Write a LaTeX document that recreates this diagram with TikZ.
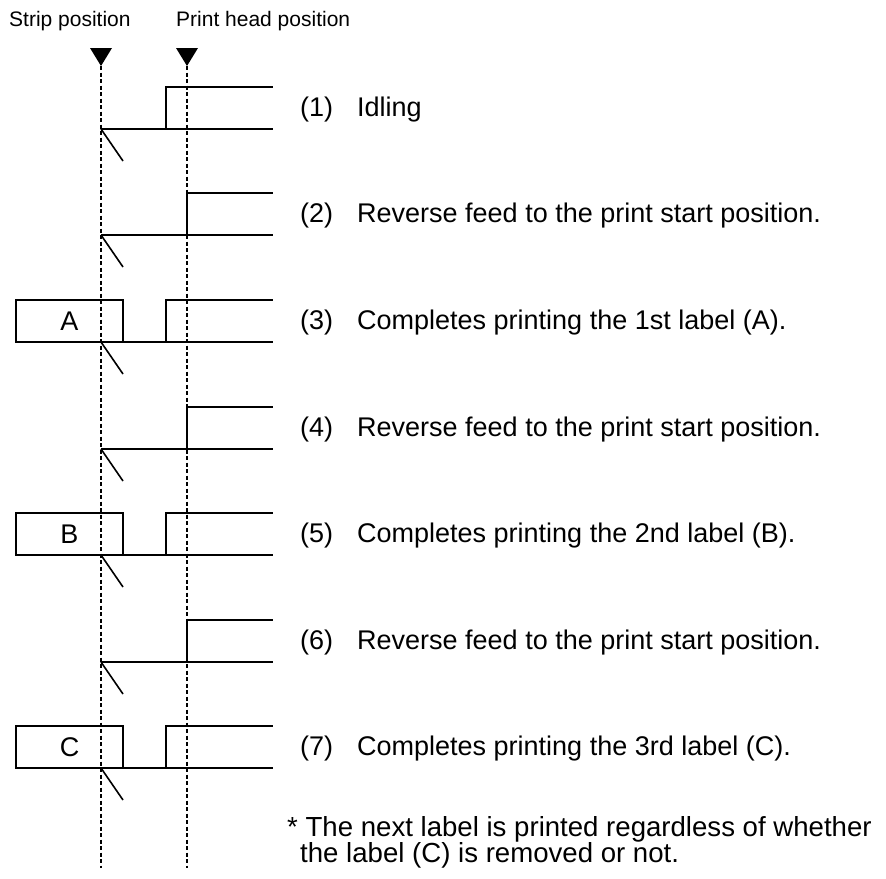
\documentclass[tikz,border=0pt]{standalone}
\usepackage{fontspec}
\setmainfont{Liberation Sans}
\usetikzlibrary{positioning}
\tikzset{
	tape/.style={line width=1.6pt},
	guide/.style={line width=1.4pt, dash pattern=on 4pt off 2.5pt},
	marker/.style={fill=black},
	labelbox/.style={draw=black, line width=1.6pt, minimum width=107pt, minimum height=42pt, inner sep=0pt, outer sep=0pt, font=\fontsize{27}{30}\selectfont},
	stepno/.style={anchor=base west, inner sep=0pt, font=\fontsize{27}{30}\selectfont},
	footnote/.style={anchor=base west, inner sep=0pt, font=\fontsize{27.6}{30}\selectfont},
	heading/.style={anchor=base west, inner sep=0pt, font=\fontsize{21}{24}\selectfont}
}

\begin{document}
\begin{tikzpicture}[x=1pt, y=-1pt]
\useasboundingbox (0,0) rectangle (886,878);
\coordinate (strip) at (101,66);
\coordinate (head) at (187,66);
\coordinate (strip end) at (101,868);
\coordinate (head end) at (187,868);

\node[heading] (strip title) at (9,26) {Strip position};
\node[heading] (head title) at (176,26) {Print head position};
\fill[marker] (strip) -- ++(-11,-18) -- ++(22,0) -- cycle;
\fill[marker] (head) -- ++(-11,-18) -- ++(22,0) -- cycle;
\draw[guide] (strip) -- (strip end);
\draw[guide] (head) -- (head end);

% (1) idling
\draw[tape] (101,129) -- (273,129) (166,129) |- (273,87);
\draw[tape] (101,129) -- ++(22,32);
\node[stepno] (n1) at (300,116) {(1)};
\node[stepno] (t1) at (357,116) {Idling};

% (2) reverse feed
\draw[tape] (101,235) -- (273,235) (187,235) |- (273,193);
\draw[tape] (101,235) -- ++(22,32);
\node[stepno] (n2) at (300,222) {(2)};
\node[stepno] (t2) at (357,222) {Reverse feed to the print start position.};

% (3) label A
\node[labelbox] (A) at (69.5,321) {A};
\draw[tape] (A.south east) -- (273,342) (166,342) |- (273,300);
\draw[tape] (101,342) -- ++(22,32);
\node[stepno] (n3) at (300,329) {(3)};
\node[stepno] (t3) at (357,329) {Completes printing the 1st label (A).};

% (4) reverse feed
\draw[tape] (101,449) -- (273,449) (187,449) |- (273,407);
\draw[tape] (101,449) -- ++(22,32);
\node[stepno] (n4) at (300,436) {(4)};
\node[stepno] (t4) at (357,436) {Reverse feed to the print start position.};

% (5) label B
\node[labelbox] (B) at (69.5,534) {B};
\draw[tape] (B.south east) -- (273,555) (166,555) |- (273,513);
\draw[tape] (101,555) -- ++(22,32);
\node[stepno] (n5) at (300,542) {(5)};
\node[stepno] (t5) at (357,542) {Completes printing the 2nd label (B).};

% (6) reverse feed
\draw[tape] (101,662) -- (273,662) (187,662) |- (273,620);
\draw[tape] (101,662) -- ++(22,32);
\node[stepno] (n6) at (300,649) {(6)};
\node[stepno] (t6) at (357,649) {Reverse feed to the print start position.};

% (7) label C
\node[labelbox] (C) at (69.5,747) {C};
\draw[tape] (C.south east) -- (273,768) (166,768) |- (273,726);
\draw[tape] (101,768) -- ++(22,32);
\node[stepno] (n7) at (300,755) {(7)};
\node[stepno] (t7) at (357,755) {Completes printing the 3rd label (C).};

\node[footnote] (note1) at (287,836) {* The next label is printed regardless of whether};
\node[footnote] (note2) at (300,862) {the label (C) is removed or not.};
\end{tikzpicture}
\end{document}
